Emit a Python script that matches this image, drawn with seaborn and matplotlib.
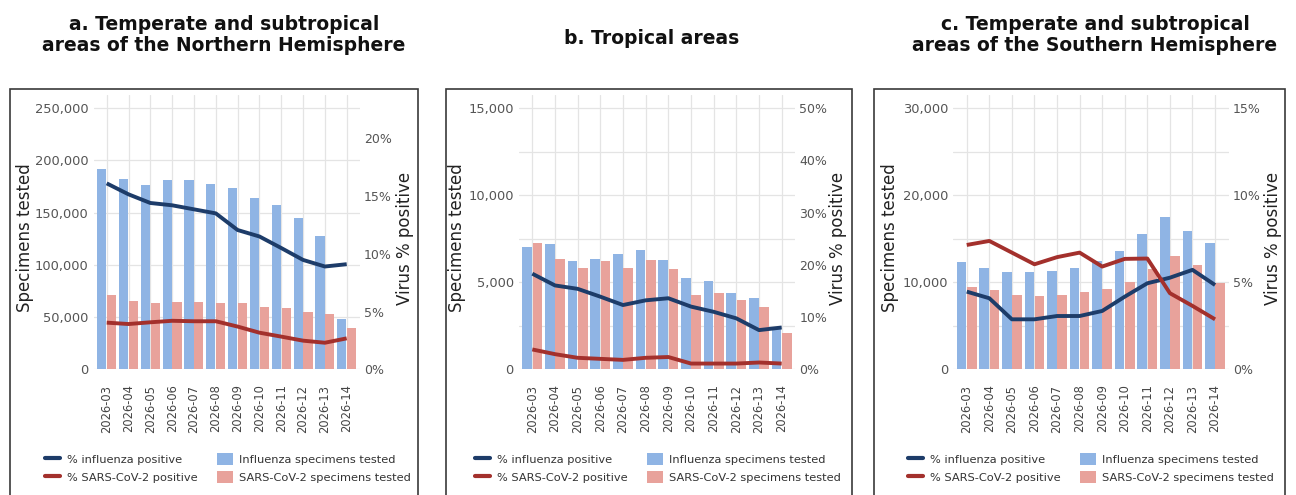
import numpy as np
import pandas as pd
import matplotlib
matplotlib.use("Agg")
import matplotlib.pyplot as plt
import seaborn as sns
from matplotlib.lines import Line2D
from matplotlib.patches import Patch, Rectangle
from matplotlib.ticker import FuncFormatter

# ---------------- data ----------------
weeks = ["2026-03", "2026-04", "2026-05", "2026-06", "2026-07", "2026-08",
         "2026-09", "2026-10", "2026-11", "2026-12", "2026-13", "2026-14"]

titles = ["a. Temperate and subtropical\nareas of the Northern Hemisphere",
          "b. Tropical areas",
          "c. Temperate and subtropical\nareas of the Southern Hemisphere"]

# panel a
flu_tested_a = [191600, 182300, 176600, 180700, 180700, 176900, 173400, 164400, 157400, 144600, 127700, 48500]
sars_tested_a = [71200, 65800, 63900, 64800, 64800, 63200, 63900, 59400, 58400, 54900, 53000, 39600]
flu_pos_a = [16.1, 15.15, 14.4, 14.2, 13.85, 13.5, 12.06, 11.5, 10.5, 9.47, 8.9, 9.1]
sars_pos_a = [4.04, 3.92, 4.07, 4.2, 4.16, 4.16, 3.7, 3.17, 2.83, 2.48, 2.3, 2.68]

# panel b
flu_tested_b = [7010, 7220, 6210, 6310, 6630, 6840, 6250, 5260, 5060, 4360, 4110, 2450]
sars_tested_b = [7260, 6310, 5790, 6190, 5790, 6250, 5770, 4260, 4360, 3970, 3590, 2060]
flu_pos_b = [18.3, 16.05, 15.4, 13.9, 12.3, 13.2, 13.6, 12.0, 11.0, 9.75, 7.5, 8.0]
sars_pos_b = [3.8, 2.9, 2.2, 2.0, 1.8, 2.2, 2.35, 1.1, 1.1, 1.1, 1.3, 1.1]

# panel c
flu_tested_c = [12370, 11600, 11150, 11150, 11260, 11600, 12480, 13600, 15500, 17470, 15930, 14550]
sars_tested_c = [9420, 9100, 8540, 8460, 8540, 8850, 9230, 10000, 11500, 13000, 12000, 9900]
flu_pos_c = [4.46, 4.08, 2.87, 2.87, 3.06, 3.06, 3.35, 4.17, 4.94, 5.26, 5.71, 4.84]
sars_pos_c = [7.14, 7.37, 6.7, 6.03, 6.44, 6.7, 5.9, 6.34, 6.36, 4.37, 3.64, 2.87]

left_ticks_a = [0, 50000, 100000, 150000, 200000, 250000]
left_ticks_b = [0, 5000, 10000, 15000]
left_ticks_c = [0, 10000, 20000, 30000]
right_ticks_a = [0, 5, 10, 15, 20]
right_ticks_b = [0, 10, 20, 30, 40, 50]
right_ticks_c = [0, 5, 10, 15]

series_names = ["Influenza specimens tested", "SARS-CoV-2 specimens tested"]
line_names = ["% influenza positive", "% SARS-CoV-2 positive"]

# ---------------- style ----------------
BLUE_BAR = "#8fb4e4"
RED_BAR = "#e8a29b"
BLUE_LINE = "#1d3c69"
RED_LINE = "#a3302c"
GRID = "#e4e4e4"

sns.set_theme(style="white")
plt.rcParams["font.family"] = ["DejaVu Sans"]

W, H = 1296, 495
fig = plt.figure(figsize=(W / 100, H / 100), dpi=100)
fig.patch.set_facecolor("white")


def fx(px):
    return px / W


def fy(py):
    return 1 - py / H


AX_TOP, AX_BOT = 95, 369.3

panels = [
    dict(title_x=224, title_y=35, box=(10, 418), ax=(93.6, 359.8),
         ylab_l=25, ylab_r=405, leg_x=45,
         left_max=262500, right_max=23.75, grid_minor=None,
         lt=left_ticks_a, rt=right_ticks_a,
         ft=flu_tested_a, st=sars_tested_a, fp=flu_pos_a, sp=sars_pos_a),
    dict(title_x=652, title_y=38, box=(446, 852), ax=(518.7, 795.3),
         ylab_l=457, ylab_r=838, leg_x=475,
         left_max=15750, right_max=52.5, grid_minor=[2500, 7500, 12500],
         lt=left_ticks_b, rt=right_ticks_b,
         ft=flu_tested_b, st=sars_tested_b, fp=flu_pos_b, sp=sars_pos_b),
    dict(title_x=1095, title_y=35, box=(874, 1285), ax=(953.2, 1228.6),
         ylab_l=890, ylab_r=1273, leg_x=908,
         left_max=31500, right_max=15.75, grid_minor=[5000, 15000, 25000],
         lt=left_ticks_c, rt=right_ticks_c,
         ft=flu_tested_c, st=sars_tested_c, fp=flu_pos_c, sp=sars_pos_c),
]

for title, p in zip(titles, panels):
    # outer frame
    x0, x1 = p["box"]
    fig.patches.append(Rectangle((fx(x0), -0.05), fx(x1) - fx(x0), fy(89) + 0.05,
                                 transform=fig.transFigure, fill=False,
                                 ec="#3a3a3a", lw=1.2, zorder=0))
    # title
    fig.text(fx(p["title_x"]), fy(p["title_y"]), title, ha="center", va="center",
             fontsize=13.5, fontweight="bold", color="#111111",
             multialignment="center", linespacing=1.15)

    a0, a1 = p["ax"]
    ax = fig.add_axes([fx(a0), fy(AX_BOT), fx(a1) - fx(a0), fy(AX_TOP) - fy(AX_BOT)])

    df = pd.DataFrame({
        "week": weeks * 2,
        "series": [series_names[0]] * len(weeks) + [series_names[1]] * len(weeks),
        "value": list(p["ft"]) + list(p["st"]),
    })
    sns.barplot(data=df, x="week", y="value", hue="series", order=weeks,
                hue_order=series_names, palette=[BLUE_BAR, RED_BAR],
                width=0.9, gap=0.06, saturation=1, legend=False, ax=ax,
                edgecolor="none")

    ax.set_xlim(-0.6, len(weeks) - 0.4)
    ax.set_ylim(0, p["left_max"])
    ax.set_yticks(p["lt"])
    if p["grid_minor"]:
        ax.set_yticks(p["grid_minor"], minor=True)
    ax.yaxis.set_major_formatter(FuncFormatter(lambda v, _: f"{int(v):,}"))
    ax.set_axisbelow(True)
    ax.grid(axis="y", which="both", color=GRID, lw=0.9)
    ax.grid(axis="x", which="major", color=GRID, lw=0.9)
    ax.tick_params(axis="both", which="both", length=0)
    ax.tick_params(axis="y", labelsize=9.4, labelcolor="#555555", pad=3.5)
    ax.tick_params(axis="x", labelsize=8.3, labelcolor="#444444", pad=11,
                   labelrotation=90)
    ax.set_xlabel("")
    ax.set_ylabel("Specimens tested", fontsize=12, color="#222222")
    lab = ax.yaxis.label
    lab.set_verticalalignment("center")
    ax.yaxis.set_label_coords(fx(p["ylab_l"]), fy(238), transform=fig.transFigure)
    for s in ax.spines.values():
        s.set_visible(False)

    ax2 = ax.twinx()
    pos = np.arange(len(weeks))
    sns.lineplot(x=pos, y=p["fp"], color=BLUE_LINE, lw=2.8, ax=ax2,
                 solid_capstyle="butt")
    sns.lineplot(x=pos, y=p["sp"], color=RED_LINE, lw=2.8, ax=ax2,
                 solid_capstyle="butt")
    ax2.set_xlim(-0.6, len(weeks) - 0.4)
    ax2.set_ylim(0, p["right_max"])
    ax2.set_yticks(p["rt"])
    ax2.yaxis.set_major_formatter(FuncFormatter(lambda v, _: f"{int(v)}%"))
    ax2.grid(False)
    ax2.tick_params(axis="y", length=0, labelsize=9, labelcolor="#555555", pad=3)
    ax2.set_ylabel("Virus % positive", fontsize=12, color="#222222", rotation=90)
    lab2 = ax2.yaxis.label
    lab2.set_verticalalignment("center")
    ax2.yaxis.set_label_coords(fx(p["ylab_r"]), fy(238), transform=fig.transFigure)
    for s in ax2.spines.values():
        s.set_visible(False)

    handles = [Line2D([], [], color=BLUE_LINE, lw=3),
               Line2D([], [], color=RED_LINE, lw=3),
               Patch(facecolor=BLUE_BAR, edgecolor="none"),
               Patch(facecolor=RED_BAR, edgecolor="none")]
    labels = [line_names[0], line_names[1], series_names[0], series_names[1]]
    fig.legend(handles, labels, ncol=2, loc="center left",
               bbox_to_anchor=(fx(p["leg_x"]), fy(468)), frameon=False,
               fontsize=8.2, labelcolor="#333333", handlelength=1.35,
               handleheight=1.35, handletextpad=0.6, columnspacing=1.7,
               labelspacing=0.45, borderpad=0, borderaxespad=0)

fig.savefig("out.png", dpi=100, facecolor="white")
